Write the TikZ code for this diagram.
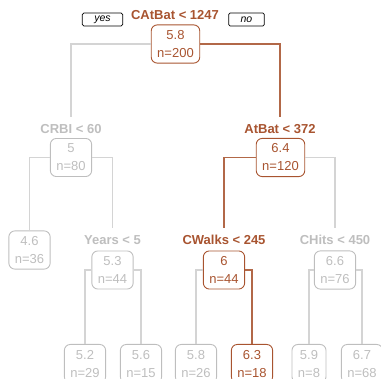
\documentclass[tikz,border=0pt]{standalone}
\usepackage{fontspec}
\setmainfont{Liberation Sans}
\usetikzlibrary{positioning}
\definecolor{hot}{RGB}{168,84,48}
\definecolor{hotline}{RGB}{178,104,72}
\definecolor{cold}{RGB}{190,190,190}
\definecolor{coldline}{RGB}{212,212,212}

\begin{document}
\begin{tikzpicture}[x=1pt, y=-1pt,
		every node/.style={font=\fontsize{13}{18}\selectfont},
		box/.style={draw=cold, text=cold, rounded corners=6pt, align=center,
			inner xsep=6pt, inner ysep=5.5pt, line width=0.9pt},
		hotbox/.style={box, draw=hot, text=hot},
		split/.style={anchor=base, text=cold, font=\fontsize{13}{18}\selectfont\bfseries,
			text height=9.5pt, inner ysep=7pt},
		hotsplit/.style={split, text=hot},
		edge/.style={draw=coldline, line width=1.2pt},
		hotedge/.style={draw=hotline, line width=1.2pt},
		tag/.style={draw, rounded corners=1.5pt, line width=0.8pt, inner xsep=12pt,
			inner ysep=0pt, minimum height=13pt, font=\fontsize{10.5}{12}\selectfont\itshape}]
		\useasboundingbox (0,0) rectangle (381,379);
		% labels of the splits
		\node[hotsplit] (l1) at (175,20) {CAtBat < 1247};
		\node[split] (l2) at (71,134) {CRBI < 60};
		\node[hotsplit] (l3) at (280,134) {AtBat < 372};
		\node[split] (l5) at (112.5,245) {Years < 5};
		\node[hotsplit] (l6) at (224,245) {CWalks < 245};
		\node[split] (l7) at (335,245) {CHits < 450};
		\node[tag] (yes) at (102.5,19.5) {yes};
		\node[tag] (no) at (246.5,19.5) {no};
		% boxes
		\node[hotbox] (n1) at (175.5,44) {5.8\\n=200};
		\node[box] (n2) at (71,157.5) {5\\n=80};
		\node[hotbox] (n3) at (280.5,157.5) {6.4\\n=120};
		\node[box] (n4) at (29.5,250) {4.6\\n=36};
		\node[box] (n5) at (112.5,270) {5.3\\n=44};
		\node[hotbox] (n6) at (224,270) {6\\n=44};
		\node[box] (n7) at (335,270) {6.6\\n=76};
		\node[box, anchor=north] (n10) at (85,344) {5.2\\n=29};
		\node[box, anchor=north] (n11) at (141,344) {5.6\\n=15};
		\node[box, anchor=north] (n12) at (196,344) {5.8\\n=26};
		\node[hotbox, anchor=north] (n13) at (252,344) {6.3\\n=18};
		\node[box, anchor=north] (n14) at (309,344) {5.9\\n=8};
		\node[box, anchor=north] (n15) at (362,344) {6.7\\n=68};
		% branches
		\draw[edge] (n1.west) -| (l2.north);
		\draw[hotedge] (n1.east) -| (l3.north);
		\draw[edge] (n2.west) -| (n4.north);
		\draw[edge] (n2.east) -| (l5.north);
		\draw[hotedge] (n3.west) -| (l6.north);
		\draw[edge] (n3.east) -| (l7.north);
		\draw[edge] (n5.west) -| (n10.north);
		\draw[edge] (n5.east) -| (n11.north);
		\draw[edge] (n6.west) -| (n12.north);
		\draw[hotedge] (n6.east) -| (n13.north);
		\draw[edge] (n7.west) -| (n14.north);
		\draw[edge] (n7.east) -| (n15.north);
	\end{tikzpicture}
\end{document}
